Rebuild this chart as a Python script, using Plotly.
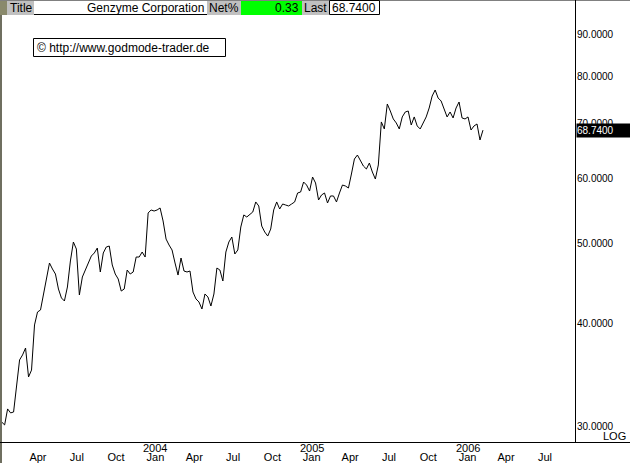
import numpy as np
import pandas as pd
import plotly.graph_objects as go

# ---------------- data ----------------
START_DATE = "2003-01-06"          # first weekly close
prices = [
    30.34, 30.09, 31.47, 31.12, 31.20, 33.56, 36.10, 36.61, 37.33, 34.42,
    35.09, 39.82, 41.29, 41.53, 43.43, 45.04, 47.37, 46.58, 45.93, 44.04,
    42.95, 42.59, 44.29, 47.64, 50.24, 49.26, 43.31, 45.55, 46.58, 47.37,
    48.31, 48.72, 49.40, 46.19, 48.72, 49.54, 49.68, 47.11, 45.93, 45.29,
    43.79, 44.04, 46.45, 45.93, 46.19, 48.17, 48.17, 48.85, 48.17, 54.50,
    54.96, 54.80, 54.96, 55.27, 53.29, 50.66, 49.82, 49.13, 47.37, 45.80,
    48.04, 46.32, 46.19, 46.32, 43.67, 42.83, 42.47, 41.64, 43.43, 43.07,
    41.99, 43.43, 46.71, 46.45, 45.04, 48.85, 50.24, 50.95, 48.58, 49.13,
    52.40, 54.20, 53.89, 54.20, 54.65, 56.21, 55.58, 52.54, 51.67, 51.09,
    52.10, 54.96, 56.21, 55.11, 55.89, 55.73, 55.58, 55.89, 56.21, 57.64,
    57.80, 59.44, 58.94, 57.96, 60.28, 59.28, 56.52, 57.32, 57.64, 56.05,
    57.16, 57.16, 56.21, 57.64, 58.94, 58.78, 58.45, 60.79, 63.40, 64.11,
    63.04, 62.17, 61.65, 62.69, 61.13, 59.94, 62.35, 70.34, 68.97, 73.97,
    72.53, 70.93, 70.14, 68.97, 71.33, 72.33, 72.53, 69.74, 71.33, 69.55,
    68.97, 70.14, 71.33, 73.14, 75.64, 76.93, 75.22, 74.59, 72.94, 71.33,
    72.33, 71.13, 73.14, 74.38, 71.13, 70.93, 71.33, 68.77, 69.55, 69.94,
    66.87, 68.74,
]
dates = pd.date_range(START_DATE, periods=len(prices), freq="7D")

y_ticks = [30, 40, 50, 60, 70, 80, 90]
x_tick_dates = ["2003-04-01", "2003-07-01", "2003-10-01", "2004-01-01",
                "2004-04-01", "2004-07-01", "2004-10-01", "2005-01-01",
                "2005-04-01", "2005-07-01", "2005-10-01", "2006-01-01",
                "2006-04-01", "2006-07-01"]
x_tick_text = ["Apr", "Jul", "Oct", "Jan", "Apr", "Jul", "Oct", "Jan",
               "Apr", "Jul", "Oct", "Jan", "Apr", "Jul"]
year_dates = ["2004-01-01", "2005-01-01", "2006-01-01"]
year_text = ["2004", "2005", "2006"]

title_name = "Genzyme Corporation"
net_pct = "0.33"
last_text = "68.7400"
copyright_text = "© http://www.godmode-trader.de"

# ---------------- layout helpers (pixel -> paper) ----------------
W, H = 630, 463
L, R, T, B = 2, 575, 17, 442
def xp(px):
    return (px - L) / (R - L)
def yp(py):
    return (B - py) / (B - T)

FONT = "Liberation Sans, Arial, sans-serif"

fig = go.Figure()
fig.add_trace(go.Scatter(x=dates, y=prices, mode="lines",
                         line=dict(color="black", width=1),
                         hoverinfo="skip", showlegend=False))

shapes = []
def rect(x0, y0, x1, y1, fill, line_color=None, lw=0):
    shapes.append(dict(type="rect", xref="paper", yref="paper",
                       x0=xp(x0), x1=xp(x1), y0=yp(y1), y1=yp(y0),
                       fillcolor=fill, layer="above",
                       line=dict(color=line_color or fill, width=lw)))
def hline(x0, x1, y, color, w=1):
    shapes.append(dict(type="line", xref="paper", yref="paper",
                       x0=xp(x0), x1=xp(x1), y0=yp(y), y1=yp(y),
                       line=dict(color=color, width=w), layer="above"))
def vline(x, y0, y1, color, w=1):
    shapes.append(dict(type="line", xref="paper", yref="paper",
                       x0=xp(x), x1=xp(x), y0=yp(y0), y1=yp(y1),
                       line=dict(color=color, width=w), layer="above"))

# frame
rect(0, 0, 2, 463, "#6f6f60")
hline(0, 630, 0.5, "#808080")
rect(0, 1, 7, 15, "#8a8a6c")
# header cells
rect(7, 1, 34, 15, "#c0c0c0")
rect(34, 1, 207, 15, "white")
hline(34, 207, 14.5, "black")
rect(207, 1, 241, 15, "#c0c0c0")
rect(241, 1, 302, 15, "#00ff00")
rect(302, 1, 329, 15, "#c0c0c0")
shapes.append(dict(type="rect", xref="paper", yref="paper",
                   x0=xp(329.5), x1=xp(379.5), y0=yp(14.5), y1=yp(0.5),
                   fillcolor="white", line=dict(color="black", width=1), layer="above"))
vline(575.5, 0, 442, "black")
hline(0, 630, 442.5, "black")
# copyright box
shapes.append(dict(type="rect", xref="paper", yref="paper",
                   x0=xp(33.5), x1=xp(225.5), y0=yp(56.5), y1=yp(38.5),
                   fillcolor="white", line=dict(color="black", width=1), layer="above"))

ann = []
def text(x, y, s, anchor="left", size=12, color="black"):
    ann.append(dict(xref="paper", yref="paper", x=xp(x), y=yp(y), text=s,
                    showarrow=False, xanchor=anchor, yanchor="middle",
                    font=dict(family=FONT, size=size, color=color),
                    borderpad=0))

text(9, 8, "Title")
text(205, 8, title_name, anchor="right")
text(208, 8, "Net%")
text(300, 8, net_pct, anchor="right")
text(303, 8, "Last")
text(331, 8, last_text)
text(36, 47.5, copyright_text)
text(627, 436, "LOG", anchor="right", size=11)

for d, s in zip(year_dates, year_text):
    ann.append(dict(xref="x", yref="paper", x=d, y=yp(448), text=s,
                    showarrow=False, xanchor="center", yanchor="middle",
                    font=dict(family=FONT, size=11, color="black")))

ann.append(dict(xref="paper", yref="y", x=1, y=float(np.log10(prices[-1])),
                text=f"{prices[-1]:.4f}", showarrow=False, xanchor="left",
                yanchor="middle", xshift=1, width=53, height=13, align="left",
                bgcolor="black", borderpad=0,
                font=dict(family=FONT, size=10, color="white")))

fig.update_layout(
    width=W, height=H,
    margin=dict(l=L, r=W - R, t=T, b=H - B, pad=0, autoexpand=False),
    paper_bgcolor="white", plot_bgcolor="white",
    showlegend=False,
    font=dict(family=FONT, size=11, color="black"),
    xaxis=dict(type="date", automargin=False,
               range=["2003-01-06 20:29", "2006-09-09 10:48"],
               tickvals=x_tick_dates, ticktext=x_tick_text,
               showgrid=False, zeroline=False, showline=False, ticks="",
               ticklabelstandoff=7, tickfont=dict(size=11)),
    yaxis=dict(type="log", side="right", automargin=False,
               range=[1.45765, 1.97493],
               tickvals=y_ticks, tickformat=".4f",
               showgrid=False, zeroline=False, showline=False, ticks="",
               ticklabelstandoff=1, tickfont=dict(size=10)),
    shapes=shapes, annotations=ann,
)

fig.write_html(
    "out.html",
    config={"displayModeBar": False},
    post_script="document.body.style.margin='0';document.body.style.overflow='hidden';",
)
